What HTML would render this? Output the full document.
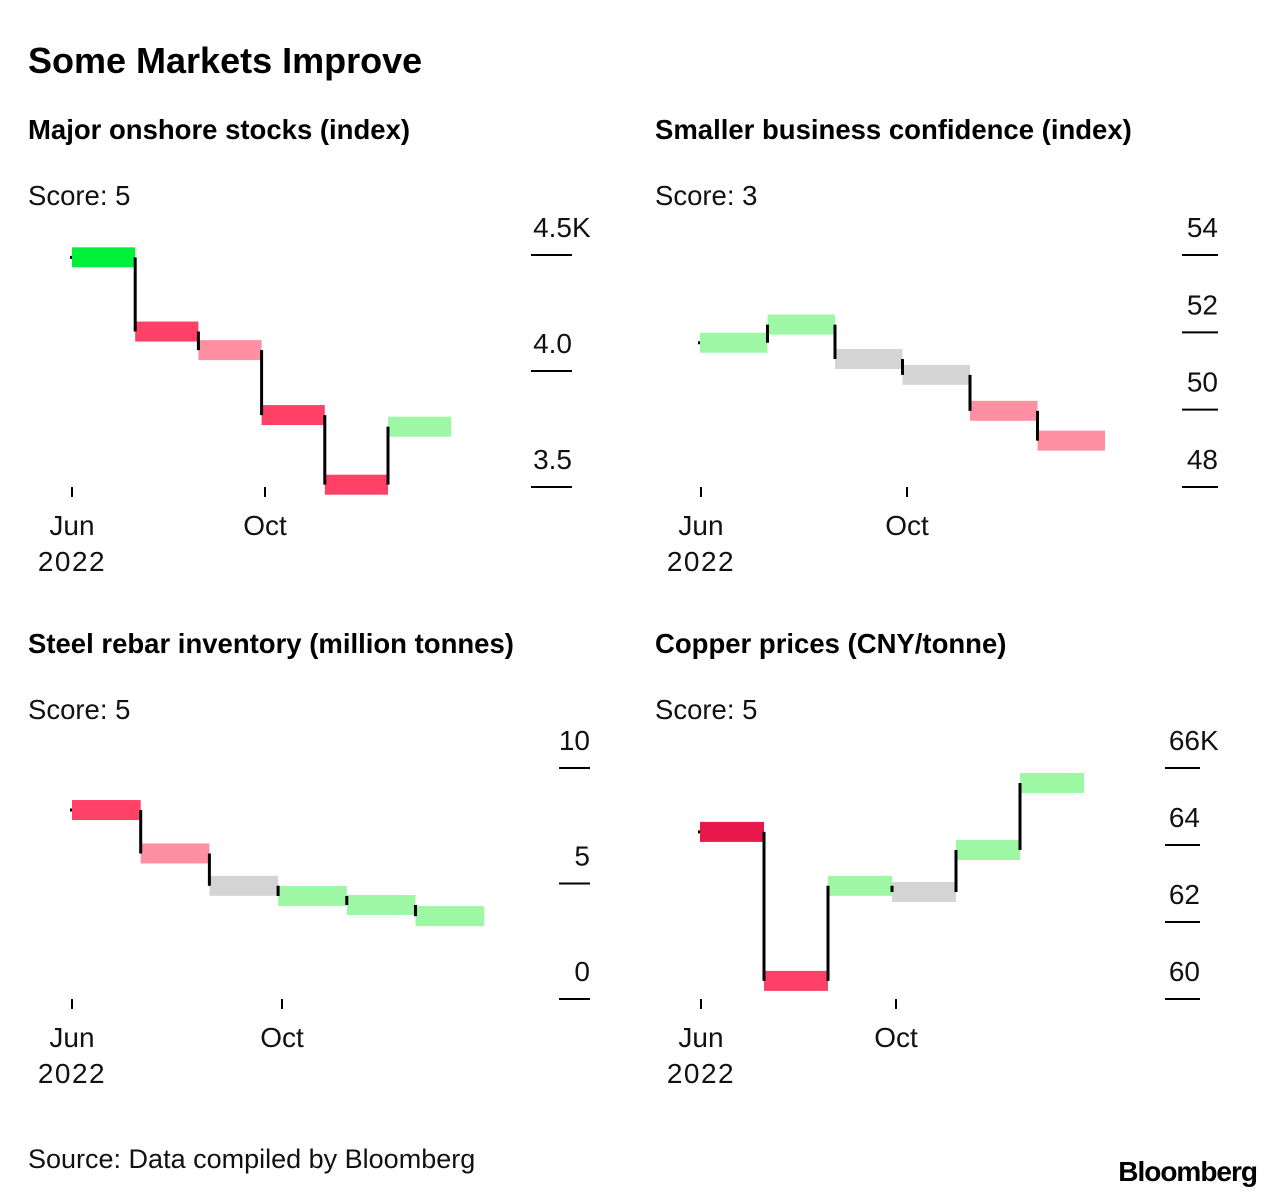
<!DOCTYPE html>
<html><head><meta charset="utf-8"><style>
body{margin:0;background:#fff;font-family:"Liberation Sans",sans-serif;}
#root{position:relative;width:1285px;height:1198px;overflow:hidden;}
svg text{font-family:"Liberation Sans",sans-serif;}
</style></head><body>
<div id="root">
<svg id="svg" width="1285" height="1198">
<text x="28" y="73" font-size="36" font-weight="bold" fill="#000">Some Markets Improve</text>
<text x="28" y="1168" font-size="27" fill="#111">Source: Data compiled by Bloomberg</text>
<text x="1257" y="1181" font-size="28" font-weight="bold" text-anchor="end" fill="#000" letter-spacing="-1">Bloomberg</text>
</svg>
</div>
<script>
// Chart 1: stocks
const stocksValues=[4.49,4.17,4.09,3.81,3.51,3.76];
const stocksColors=["#00f03c","#ff4067","#ff8fa3","#ff4067","#ff4067","#9ef7a5"];
const stocksTicks=[3.5,4.0,4.5];
const stocksTickLabels=["3.5","4.0","4.5"];
// Chart 2: confidence
const confValues=[51.73,52.2,51.31,50.9,49.97,49.2];
const confColors=["#9ef7a5","#9ef7a5","#d4d4d4","#d4d4d4","#ff8fa3","#ff8fa3"];
const confTicks=[48,50,52,54];
const confTickLabels=["48","50","52","54"];
// Chart 3: rebar
const rebarValues=[8.18,6.3,4.9,4.46,4.07,3.59];
const rebarColors=["#ff4067","#ff8fa3","#d4d4d4","#9ef7a5","#9ef7a5","#9ef7a5"];
const rebarTicks=[0,5,10];
const rebarTickLabels=["0","5","10"];
// Chart 4: copper
const copperValues=[64.34,60.47,62.94,62.78,63.87,65.61];
const copperColors=["#e8194a","#ff4067","#9ef7a5","#d4d4d4","#9ef7a5","#9ef7a5"];
const copperTicks=[60,62,64,66];
const copperTickLabels=["60","62","64","66"];
const monthTicks=[0,4];
const monthLabels=["Jun","Oct"];

const NS="http://www.w3.org/2000/svg";
const svg=document.getElementById('svg');
function mk(tag,attrs,parent){const e=document.createElementNS(NS,tag);for(const k in attrs)e.setAttribute(k,attrs[k]);(parent||svg).appendChild(e);return e;}

const charts=[
 {name:"stocks",title:"Major onshore stocks (index)",score:"Score: 5",tx:28,ty:139,vals:stocksValues,cols:stocksColors,ticks:stocksTicks,tl:stocksTickLabels,x0:72,xJun:72,xOct:265,bw:63.2,yMin:3.5,yMax:4.5,yB:487,yT:255,gx1:531,gx2:572,k:true},
 {name:"confidence",title:"Smaller business confidence (index)",score:"Score: 3",tx:655,ty:139,vals:confValues,cols:confColors,ticks:confTicks,tl:confTickLabels,x0:700,xJun:701,xOct:907,bw:67.5,yMin:48,yMax:54,yB:487,yT:255,gx1:1182,gx2:1218,k:false},
 {name:"rebar",title:"Steel rebar inventory (million tonnes)",score:"Score: 5",tx:28,ty:653,vals:rebarValues,cols:rebarColors,ticks:rebarTicks,tl:rebarTickLabels,x0:72,xJun:72,xOct:282,bw:68.7,yMin:0,yMax:10,yB:999,yT:768,gx1:559,gx2:590,k:false},
 {name:"copper",title:"Copper prices (CNY/tonne)",score:"Score: 5",tx:655,ty:653,vals:copperValues,cols:copperColors,ticks:copperTicks,tl:copperTickLabels,x0:700,xJun:701,xOct:896,bw:64,yMin:60,yMax:66,yB:999,yT:768,gx1:1165,gx2:1200,k:true}
];

charts.forEach(c=>{
 const g=mk('g',{});
 
 
 const yS=v=>c.yB-(v-c.yMin)/(c.yMax-c.yMin)*(c.yB-c.yT);
 const xS=i=>c.x0+i*c.bw;
 const mS=m=>c.xJun+m/4*(c.xOct-c.xJun);
 const t=mk('text',{x:c.tx,y:c.ty,'font-size':27.5,'font-weight':'bold',fill:'#000'},g);t.textContent=c.title;
 
 
 const s=mk('text',{x:c.tx,y:c.ty+66,'font-size':27.5,fill:'#111'},g);s.textContent=c.score;
 
 
 c.ticks.forEach((v,i)=>{
  const y=yS(v);
  const l=mk('line',{x1:c.gx1,x2:c.gx2,y1:y,y2:y,stroke:'#000','stroke-width':2},g);
  
  
  const tx=mk('text',{x:c.gx2,y:y-18,'font-size':28,'text-anchor':'end',fill:'#111'},g);tx.textContent=c.tl[i];
  
  
  if(c.k && i===c.ticks.length-1){
   const kk=mk('text',{x:c.gx2,y:y-18,'font-size':28,fill:'#111'},g);kk.textContent="K";
   
   
  }
 });
 monthTicks.forEach((m,i)=>{
  const x=mS(m);
  const l=mk('line',{x1:x,x2:x,y1:c.yB,y2:c.yB+10,stroke:'#000','stroke-width':2},g);
  
  
  const tx=mk('text',{x:x,y:c.yB+48,'font-size':28,'text-anchor':'middle',fill:'#111'},g);tx.textContent=monthLabels[i];
  
  
 });
 const yr=mk('text',{x:mS(0),y:c.yB+84,'font-size':28,'text-anchor':'middle',fill:'#111','letter-spacing':1.5},g);yr.textContent="2022";
 
 
 c.vals.forEach((v,i)=>{
  const r=mk('rect',{x:xS(i),y:yS(v)-10,width:c.bw,height:20,fill:c.cols[i]},g);
  
  
 });
 let d='M'+(xS(0)-2)+','+yS(c.vals[0])+' H'+xS(0);
 for(let i=1;i<c.vals.length;i++){d+=' M'+xS(i)+','+yS(c.vals[i-1])+' V'+yS(c.vals[i]);}
 const p=mk('path',{d:d,stroke:'#000','stroke-width':3,fill:'none'},g);
 
 
});
</script>
</body></html>
